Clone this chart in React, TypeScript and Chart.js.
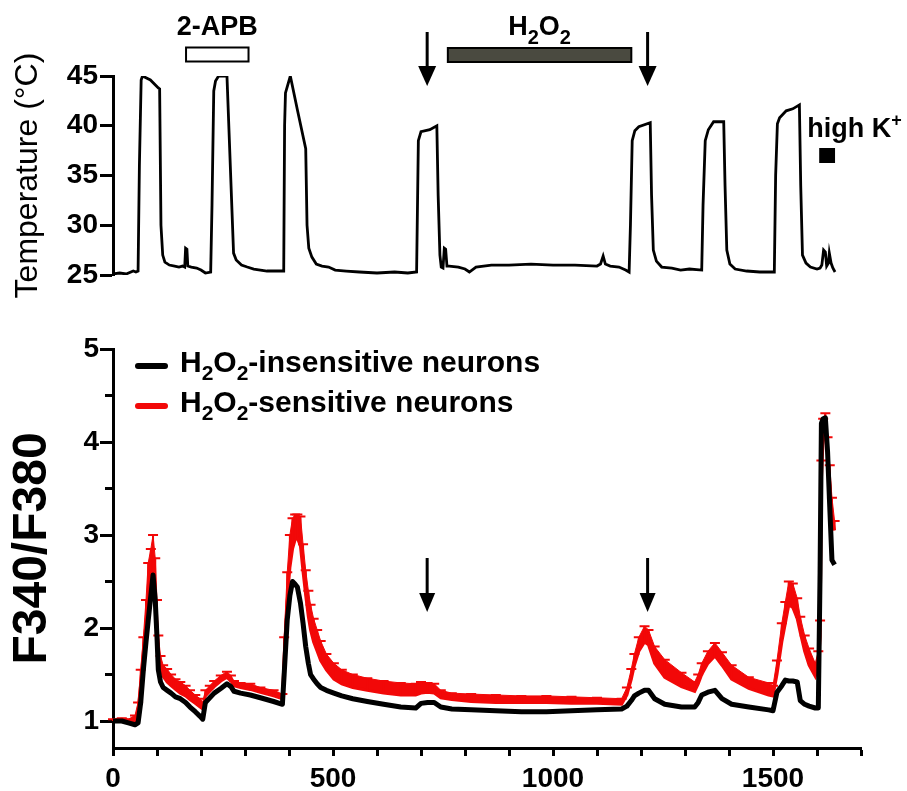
import React, { useEffect, useRef } from "react";
import { Chart, registerables } from "chart.js";

Chart.register(...registerables);

const FONT = '"Liberation Sans", Arial, Helvetica, sans-serif';
const RED = "#f20808";

// ---------- shared time axis ----------
const xMin = 0;
const xMax = 1700;

// ---------- temperature trace (top panel) ----------
const tempTime = [
  0, 15, 30, 46, 52, 57, 60, 64, 67, 85, 103, 106, 109, 113, 118, 128, 140, 150, 158, 163,
  165, 168, 170, 178, 190, 200, 210, 222, 225, 229, 233, 240, 259, 274, 280, 292, 305, 320, 335, 350,
  370, 388, 390, 392, 403, 420, 438, 441, 445, 452, 462, 475, 490, 505, 530, 560, 600, 640, 670, 690,
  694, 700, 720, 736, 739, 743, 746, 750, 753, 756, 759, 764, 785, 800, 810, 825, 860, 900, 950, 1000,
  1050, 1100, 1108, 1114, 1119, 1130, 1150, 1165, 1173, 1176, 1180, 1186, 1195, 1221, 1224, 1228, 1235, 1247, 1270, 1290,
  1310, 1338, 1341, 1346, 1353, 1365, 1388, 1391, 1395, 1402, 1414, 1440, 1470, 1503, 1506, 1510, 1515, 1530, 1545, 1560,
  1563, 1567, 1575, 1585, 1600, 1607, 1611, 1615, 1619, 1622, 1626, 1628, 1632, 1636, 1641,
];
const tempValue = [
  25.1, 25.2, 25.1, 25.4, 25.3, 25.4, 36, 44.6, 45, 44.6, 43.8, 43.7, 30, 27.0, 26.3, 26.0, 25.9, 25.8, 25.9, 25.8,
  27.7, 27.6, 25.9, 25.8, 25.7, 25.5, 25.2, 25.3, 32, 43.5, 44.5, 45, 45, 27.2, 26.5, 26.0, 25.8, 25.6, 25.5, 25.4,
  25.4, 25.4, 40, 43.3, 45, 41.4, 37.7, 30, 27.7, 26.8, 26.1, 25.9, 25.8, 25.5, 25.4, 25.3, 25.2, 25.3, 25.2, 25.3,
  38.5, 39.4, 39.6, 40.0, 33, 27, 25.8, 25.7, 27.7, 27.6, 25.9, 25.9, 25.8, 25.6, 25.3, 25.8, 26.0, 26.0, 26.1, 26.0,
  26.0, 25.9, 26.1, 26.9, 26.1, 25.9, 25.8, 25.5, 25.3, 30, 38.5, 39.5, 39.9, 40.3, 33, 27.5, 26.4, 25.8, 25.7, 25.5,
  25.6, 25.5, 32, 38.5, 39.6, 40.4, 40.4, 34, 27.5, 26.1, 25.6, 25.4, 25.3, 25.3, 35, 40.2, 40.8, 41.5, 41.7, 42.1,
  34, 27, 26.2, 25.8, 25.6, 25.7, 26.0, 27.5, 27.3, 25.9, 26.2, 27.2, 26.2, 25.7, 25.3,
];
const tempTicks = [25, 30, 35, 40, 45];

// ---------- F340/F380 traces (bottom panel) ----------
const caTime = [
  0, 20, 35, 50, 57, 63, 69, 75, 80, 86, 91, 96, 100, 103, 108, 114, 123, 132, 142, 153,
  165, 175, 187, 198, 204, 210, 220, 230, 245, 259, 268, 275, 290, 312, 335, 365, 385, 389, 396, 402,
  408, 414, 419, 426, 432, 438, 444, 449, 456, 464, 472, 485, 502, 520, 545, 578, 615, 654, 688, 700,
  715, 730, 745, 770, 814, 870, 928, 985, 1042, 1100, 1156, 1168, 1178, 1185, 1195, 1208, 1217, 1231, 1254, 1292,
  1322, 1330, 1338, 1352, 1368, 1384, 1406, 1445, 1490, 1500, 1509, 1520, 1528, 1536, 1545, 1555, 1562, 1572, 1582, 1596,
  1603, 1607, 1610, 1614, 1619, 1624, 1629, 1634, 1640,
];
const insensitiveMean = [
  1.0, 1.0, 0.98, 0.96, 0.98, 1.2, 1.55, 1.85, 2.08, 2.35, 2.57, 2.3, 1.9, 1.55, 1.42, 1.36, 1.33, 1.3, 1.26, 1.24,
  1.2, 1.15, 1.1, 1.05, 1.02, 1.2, 1.25, 1.3, 1.35, 1.4, 1.37, 1.32, 1.3, 1.28, 1.25, 1.21, 1.18, 1.5, 2.09, 2.35,
  2.5, 2.47, 2.44, 2.27, 2.05, 1.8, 1.62, 1.5, 1.45, 1.4, 1.36, 1.33, 1.3, 1.27, 1.24, 1.21, 1.18, 1.15, 1.14, 1.19,
  1.2, 1.2, 1.15, 1.13, 1.12, 1.11, 1.1, 1.1, 1.11, 1.12, 1.13, 1.16, 1.22, 1.27, 1.3, 1.33, 1.33, 1.24, 1.18, 1.15,
  1.15, 1.2, 1.28, 1.31, 1.33, 1.24, 1.18, 1.15, 1.12, 1.11, 1.31, 1.38, 1.44, 1.43, 1.43, 1.42, 1.22, 1.18, 1.16, 1.14,
  1.14, 2.6, 4.2, 4.25, 4.26, 3.9, 3.3, 2.73, 2.68,
];
const sensitiveMean = [
  1.0, 1.0, 0.99, 1.0, 1.12, 1.4, 1.75, 2.05, 2.33, 2.55, 2.62, 2.35, 2.0, 1.72, 1.58, 1.48, 1.42, 1.38, 1.34, 1.3,
  1.27, 1.23, 1.19, 1.15, 1.13, 1.27, 1.32, 1.37, 1.43, 1.47, 1.43, 1.38, 1.36, 1.34, 1.31, 1.27, 1.24, 1.7, 2.3, 2.65,
  2.85, 2.95, 2.97, 2.88, 2.6, 2.35, 2.12, 1.98, 1.85, 1.75, 1.65, 1.55, 1.45, 1.4, 1.36, 1.33, 1.3, 1.28, 1.28, 1.3,
  1.31, 1.3, 1.25, 1.23, 1.21, 1.2, 1.2, 1.2, 1.19, 1.19, 1.18, 1.28, 1.45, 1.6, 1.75, 1.85, 1.82, 1.62, 1.47, 1.37,
  1.32, 1.4, 1.5, 1.62, 1.7, 1.6, 1.45, 1.35, 1.28, 1.27, 1.5, 1.85, 2.05, 2.25, 2.22, 2.1, 1.95, 1.75, 1.6, 1.48,
  1.6, 1.9, 3.6, 4.05, 4.1, 3.85, 3.55, 3.2, 3.05,
];
const sensitiveUpper = [
  1.02, 1.03, 1.02, 1.06, 1.2, 1.55, 1.9, 2.3, 2.7, 2.85, 3.0, 2.75, 2.3, 1.92, 1.7, 1.6, 1.56, 1.5, 1.45, 1.42,
  1.38, 1.33, 1.28, 1.24, 1.2, 1.33, 1.38, 1.43, 1.49, 1.53, 1.49, 1.43, 1.41, 1.4, 1.36, 1.33, 1.29, 1.9, 2.6, 3.0,
  3.18, 3.22, 3.22, 3.2, 2.9, 2.62, 2.4, 2.25, 2.1, 1.98, 1.86, 1.72, 1.62, 1.55, 1.5, 1.46, 1.43, 1.41, 1.4, 1.42,
  1.41, 1.4, 1.33, 1.3, 1.29, 1.28, 1.27, 1.27, 1.26, 1.25, 1.24, 1.36, 1.56, 1.72, 1.9, 2.02, 1.98, 1.8, 1.66, 1.52,
  1.42, 1.5, 1.62, 1.75, 1.84, 1.74, 1.6, 1.47, 1.41, 1.38, 1.65, 2.05, 2.28, 2.5, 2.48, 2.32, 2.12, 1.92, 1.78, 1.62,
  1.75, 2.08, 3.8, 4.25, 4.31, 4.05, 3.75, 3.4, 3.15,
];
const caXTicks = [0, 100, 200, 300, 400, 500, 600, 700, 800, 900, 1000, 1100, 1200, 1300, 1400, 1500, 1600, 1700];
const caXLabelled = [0, 500, 1000, 1500];
const caYTicks = [1, 1.5, 2, 2.5, 3, 3.5, 4, 4.5, 5];
const caYMin = 0.71;
const caYMax = 5;

// ---------- stimulus annotations (times in s) ----------
const apbPeriod = [166, 308];
const h2o2Period = [761, 1178];
const arrowTimes = [714, 1215];
const highKPeriod = [1605, 1641];

type Part = { t: string; size: number; dy: number };

function drawRich(ctx: CanvasRenderingContext2D, parts: Part[], x: number, y: number, align: "left" | "center") {
  ctx.textAlign = "left";
  ctx.textBaseline = "alphabetic";
  const widths = parts.map((p) => {
    ctx.font = `bold ${p.size}px ${FONT}`;
    return ctx.measureText(p.t).width;
  });
  const total = widths.reduce((a, b) => a + b, 0);
  let cx = align === "center" ? x - total / 2 : x;
  parts.forEach((p, i) => {
    ctx.font = `bold ${p.size}px ${FONT}`;
    ctx.fillText(p.t, cx, y + p.dy);
    cx += widths[i];
  });
}

function drawArrow(ctx: CanvasRenderingContext2D, x: number, y1: number, y2: number, headH: number, headW: number) {
  ctx.beginPath();
  ctx.lineWidth = 3;
  ctx.moveTo(x, y1);
  ctx.lineTo(x, y2 - headH + 2);
  ctx.stroke();
  ctx.beginPath();
  ctx.moveTo(x - headW / 2, y2 - headH);
  ctx.lineTo(x + headW / 2, y2 - headH);
  ctx.lineTo(x, y2);
  ctx.closePath();
  ctx.fill();
}

const topAnnotations = {
  id: "topAnnotations",
  afterDraw(chart: any) {
    const { ctx, chartArea: a } = chart;
    const x = chart.scales.x;
    const top = a.top;
    ctx.save();
    ctx.strokeStyle = "#000";
    ctx.fillStyle = "#000";
    // 2-APB bar
    const b1 = x.getPixelForValue(apbPeriod[0]);
    const b2 = x.getPixelForValue(apbPeriod[1]);
    ctx.fillStyle = "#fff";
    ctx.fillRect(b1, top - 28.5, b2 - b1, 14);
    ctx.lineWidth = 2;
    ctx.strokeRect(b1, top - 28.5, b2 - b1, 14);
    ctx.fillStyle = "#000";
    drawRich(ctx, [{ t: "2-APB", size: 27, dy: 0 }], (b1 + b2) / 2, top - 41, "center");
    // H2O2 bar
    const h1 = x.getPixelForValue(h2o2Period[0]);
    const h2 = x.getPixelForValue(h2o2Period[1]);
    ctx.fillStyle = "#4a4a40";
    ctx.fillRect(h1, top - 28, h2 - h1, 14);
    ctx.lineWidth = 2;
    ctx.strokeRect(h1, top - 28, h2 - h1, 14);
    ctx.fillStyle = "#000";
    drawRich(
      ctx,
      [
        { t: "H", size: 27, dy: 0 },
        { t: "2", size: 20, dy: 9 },
        { t: "O", size: 27, dy: 0 },
        { t: "2", size: 20, dy: 9 },
      ],
      (h1 + h2) / 2,
      top - 41,
      "center"
    );
    // arrows
    arrowTimes.forEach((t) => drawArrow(ctx, x.getPixelForValue(t), top - 44, top + 10, 20, 18));
    // high K+
    const k1 = x.getPixelForValue(highKPeriod[0]);
    const k2 = x.getPixelForValue(highKPeriod[1]);
    ctx.fillRect(k1, top + 72, k2 - k1, 15);
    drawRich(
      ctx,
      [
        { t: "high K", size: 27, dy: 0 },
        { t: "+", size: 18, dy: -11 },
      ],
      k1 - 12,
      top + 61,
      "left"
    );
    ctx.restore();
  },
};

const caDecor = {
  id: "caDecor",
  afterDatasetDraw(chart: any, args: any) {
    if (args.index !== 1) return;
    const { ctx } = chart;
    const x = chart.scales.x;
    const y = chart.scales.y;
    ctx.save();
    ctx.strokeStyle = RED;
    ctx.lineWidth = 2;
    caTime.forEach((t, i) => {
      const px = x.getPixelForValue(t);
      const pu = y.getPixelForValue(sensitiveUpper[i]);
      const pm = y.getPixelForValue(sensitiveMean[i]);
      ctx.beginPath();
      ctx.moveTo(px, pm);
      ctx.lineTo(px, pu);
      ctx.moveTo(px - 5, pu);
      ctx.lineTo(px + 5, pu);
      ctx.stroke();
    });
    ctx.restore();
  },
  afterDraw(chart: any) {
    const { ctx, chartArea: a } = chart;
    const x = chart.scales.x;
    const y = chart.scales.y;
    ctx.save();
    // minor y ticks
    ctx.strokeStyle = "#000";
    ctx.lineWidth = 3;
    caYTicks.forEach((v) => {
      if (Number.isInteger(v)) return;
      const py = y.getPixelForValue(v);
      ctx.beginPath();
      ctx.moveTo(a.left - 8, py);
      ctx.lineTo(a.left, py);
      ctx.stroke();
    });
    // arrows
    ctx.fillStyle = "#000";
    arrowTimes.forEach((t) => drawArrow(ctx, x.getPixelForValue(t), a.top + 209, a.top + 263, 19, 16));
    // legend
    const rows = [
      { color: "#000", rest: "-insensitive neurons", base: a.top + 23 },
      { color: RED, rest: "-sensitive neurons", base: a.top + 63 },
    ];
    rows.forEach((r) => {
      ctx.strokeStyle = r.color;
      ctx.lineWidth = 6;
      ctx.lineCap = "round";
      ctx.beginPath();
      ctx.moveTo(a.left + 25, r.base - 6);
      ctx.lineTo(a.left + 52, r.base - 6);
      ctx.stroke();
      ctx.fillStyle = "#000";
      drawRich(
        ctx,
        [
          { t: "H", size: 30, dy: 0 },
          { t: "2", size: 21, dy: 8 },
          { t: "O", size: 30, dy: 0 },
          { t: "2", size: 21, dy: 8 },
          { t: r.rest, size: 30, dy: 0 },
        ],
        a.left + 67,
        r.base,
        "left"
      );
    });
    ctx.restore();
  },
};

function topConfig(): any {
  return {
    type: "line",
    data: {
      datasets: [
        {
          label: "Temperature",
          data: tempTime.map((t, i) => ({ x: t, y: tempValue[i] })),
          borderColor: "#000",
          borderWidth: 2.8,
          pointRadius: 0,
          tension: 0,
          fill: false,
        },
      ],
    },
    options: {
      animation: false,
      responsive: false,
      devicePixelRatio: 1,
      layout: { padding: { top: 76, bottom: 25, left: 0, right: 46 } },
      plugins: { legend: { display: false }, tooltip: { enabled: false } },
      scales: {
        x: { type: "linear", min: xMin, max: xMax, display: false },
        y: {
          type: "linear",
          min: 25,
          max: 45,
          afterBuildTicks: (s: any) => {
            s.ticks = tempTicks.map((v) => ({ value: v }));
          },
          afterFit: (s: any) => {
            s.width = 113;
          },
          ticks: { font: { family: FONT, size: 28, weight: "bold" }, color: "#000", padding: 2 },
          grid: { drawOnChartArea: false, drawTicks: true, tickLength: 13, tickWidth: 3, tickColor: "#000" },
          border: { display: true, width: 3, color: "#000" },
          title: {
            display: true,
            text: "Temperature (°C)",
            font: { family: FONT, size: 32, weight: "normal" },
            color: "#000",
            padding: { top: 9, bottom: 0 },
          },
        },
      },
    },
    plugins: [topAnnotations],
  };
}

function bottomConfig(): any {
  return {
    type: "line",
    data: {
      datasets: [
        {
          label: "H2O2-insensitive neurons",
          data: caTime.map((t, i) => ({ x: t, y: insensitiveMean[i] })),
          borderColor: "#000",
          borderWidth: 5,
          pointRadius: 0,
          tension: 0,
          fill: false,
          borderJoinStyle: "round",
        },
        {
          label: "H2O2-sensitive neurons",
          data: caTime.map((t, i) => ({ x: t, y: sensitiveMean[i] })),
          borderColor: RED,
          borderWidth: 3,
          pointRadius: 0,
          tension: 0,
          fill: false,
        },
        {
          label: "H2O2-sensitive SEM",
          data: caTime.map((t, i) => ({ x: t, y: sensitiveUpper[i] })),
          borderColor: RED,
          borderWidth: 1,
          pointRadius: 0,
          tension: 0,
          fill: "-1",
          backgroundColor: RED,
        },
      ],
    },
    options: {
      animation: false,
      responsive: false,
      devicePixelRatio: 1,
      layout: { padding: { top: 49, bottom: 0, left: 0, right: 46 } },
      plugins: { legend: { display: false }, tooltip: { enabled: false } },
      scales: {
        x: {
          type: "linear",
          min: xMin,
          max: xMax,
          afterBuildTicks: (s: any) => {
            s.ticks = caXTicks.map((v) => ({ value: v }));
          },
          afterFit: (s: any) => {
            s.height = 43;
          },
          ticks: {
            autoSkip: false,
            maxRotation: 0,
            minRotation: 0,
            padding: 6,
            color: "#000",
            font: { family: FONT, size: 28, weight: "bold" },
            callback: (v: number) => (caXLabelled.includes(v) ? String(v) : ""),
          },
          grid: { drawOnChartArea: false, drawTicks: true, tickLength: 8, tickWidth: 3, tickColor: "#000" },
          border: { display: true, width: 3, color: "#000" },
        },
        y: {
          type: "linear",
          min: caYMin,
          max: caYMax,
          afterBuildTicks: (s: any) => {
            s.ticks = caYTicks.map((v) => ({ value: v }));
          },
          afterFit: (s: any) => {
            s.width = 113;
          },
          ticks: {
            padding: 1,
            color: "#000",
            font: { family: FONT, size: 28, weight: "bold" },
            callback: (v: number) => (Number.isInteger(v) ? String(v) : ""),
          },
          grid: {
            drawOnChartArea: false,
            drawTicks: true,
            tickLength: 13,
            tickWidth: 3,
            tickColor: (c: any) => (c.tick && Number.isInteger(c.tick.value) ? "#000" : "rgba(0,0,0,0)"),
          },
          border: { display: true, width: 3, color: "#000" },
          title: {
            display: true,
            text: "F340/F380",
            font: { family: FONT, size: 48, weight: "bold" },
            color: "#000",
            padding: { top: 4, bottom: 0 },
          },
        },
      },
    },
    plugins: [caDecor],
  };
}

export default function App() {
  const topRef = useRef<HTMLCanvasElement>(null);
  const botRef = useRef<HTMLCanvasElement>(null);
  useEffect(() => {
    const c1 = new Chart(topRef.current as HTMLCanvasElement, topConfig());
    const c2 = new Chart(botRef.current as HTMLCanvasElement, bottomConfig());
    return () => {
      c1.destroy();
      c2.destroy();
    };
  }, []);
  return (
    <div style={{ position: "fixed", left: 0, top: 0, width: 907, height: 791, background: "#fff", overflow: "hidden" }}>
      <canvas
        ref={topRef}
        width={907}
        height={300}
        style={{ position: "absolute", left: 0, top: 0, width: 907, height: 300 }}
      />
      <canvas
        ref={botRef}
        width={907}
        height={491}
        style={{ position: "absolute", left: 0, top: 300, width: 907, height: 491 }}
      />
    </div>
  );
}
